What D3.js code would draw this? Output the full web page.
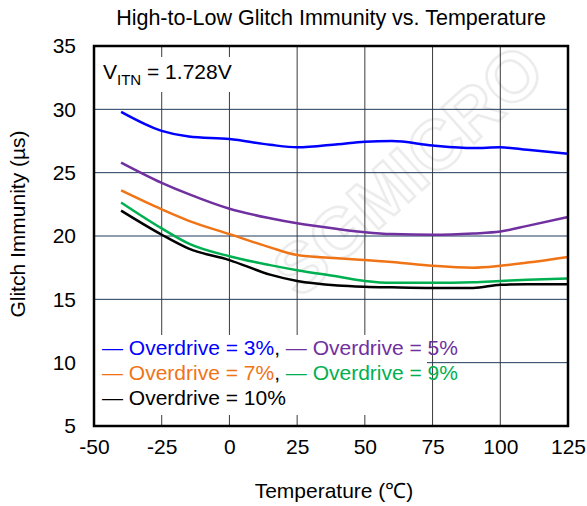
<!DOCTYPE html>
<html>
<head>
<meta charset="utf-8">
<script src="https://cdn.jsdelivr.net/npm/d3@7"></script>
<style>
  body { margin: 0; background: #fff; }
  svg { font-family: "Liberation Sans", Arial, sans-serif; }
</style>
</head>
<body>
<svg id="chart" width="587" height="506"></svg>
<script>
const temps = [-40, -25, -15, 0, 15, 25, 40, 50, 60, 75, 90, 100, 110, 125]
const od3 = [29.8, 28.3, 27.85, 27.65, 27.2, 27.0, 27.25, 27.45, 27.5, 27.15, 26.95, 27.0, 26.8, 26.5]
const od5 = [25.8, 24.2, 23.3, 22.15, 21.4, 21.0, 20.55, 20.3, 20.15, 20.1, 20.2, 20.35, 20.8, 21.5]
const od7 = [23.6, 22.1, 21.2, 20.15, 19.1, 18.5, 18.25, 18.1, 17.95, 17.65, 17.5, 17.65, 17.9, 18.35]
const od9 = [22.65, 20.6, 19.4, 18.4, 17.7, 17.3, 16.8, 16.45, 16.3, 16.3, 16.35, 16.45, 16.55, 16.65]
const od10 = [22.0, 20.1, 19.0, 18.1, 16.95, 16.45, 16.1, 16.0, 15.95, 15.9, 15.9, 16.15, 16.2, 16.2]

const xTicks = [-50, -25, 0, 25, 50, 75, 100, 125]
const yTicks = [5, 10, 15, 20, 25, 30, 35]

const series = [
    { name: 'Overdrive = 3%', color: '#0000ff', values: od3 },
    { name: 'Overdrive = 5%', color: '#7030a0', values: od5 },
    { name: 'Overdrive = 7%', color: '#f07415', values: od7 },
    { name: 'Overdrive = 9%', color: '#00b050', values: od9 },
    { name: 'Overdrive = 10%', color: '#000000', values: od10 }
]

const margin = { left: 94, right: 19, top: 46, bottom: 80 }
const width = 587
const height = 506
const svg = d3.select('#chart')

const x = d3.scaleLinear().domain([-50, 125]).range([margin.left, width - margin.right])
const y = d3.scaleLinear().domain([5, 35]).range([height - margin.bottom, margin.top])

// faint watermark
svg.append('text')
    .attr('transform', 'translate(300,300) rotate(-42)')
    .attr('fill', 'none')
    .attr('stroke', '#ececec')
    .attr('stroke-width', 2.5)
    .style('font-weight', 'bold')
    .style('font-size', '70px')
    .text('SGMICRO')

// gridlines
svg.append('g')
    .selectAll('line')
    .data(xTicks.slice(1, -1))
    .enter()
    .append('line')
    .attr('x1', (d) => x(d))
    .attr('x2', (d) => x(d))
    .attr('y1', y(35))
    .attr('y2', y(5))
    .attr('stroke', '#3a3a3a')
    .attr('stroke-width', 1)

svg.append('g')
    .selectAll('line')
    .data(yTicks.slice(1, -1))
    .enter()
    .append('line')
    .attr('x1', x(-50))
    .attr('x2', x(125))
    .attr('y1', (d) => y(d))
    .attr('y2', (d) => y(d))
    .attr('stroke', '#1f3a5c')
    .attr('stroke-width', 1)

// white boxes behind the labels
svg.append('rect')
    .attr('x', x(-50)).attr('y', 57)
    .attr('width', 166).attr('height', 35)
    .attr('fill', '#fff')
svg.append('rect')
    .attr('x', x(-50)).attr('y', 335)
    .attr('width', 333).attr('height', 80)
    .attr('fill', '#fff')

// lines
const line = d3.line()
    .x((d) => x(d[0]))
    .y((d) => y(d[1]))
    .curve(d3.curveMonotoneX)

svg.append('g')
    .selectAll('path')
    .data(series)
    .enter()
    .append('path')
    .attr('d', (s) => line(temps.map((t, i) => [t, s.values[i]])))
    .attr('fill', 'none')
    .attr('stroke', (s) => s.color)
    .attr('stroke-width', 2.5)

// frame
svg.append('rect')
    .attr('x', x(-50))
    .attr('y', y(35))
    .attr('width', x(125) - x(-50))
    .attr('height', y(5) - y(35))
    .attr('fill', 'none')
    .attr('stroke', '#000')
    .attr('stroke-width', 2.5)

// axes
const plain = (d) => String(d)

const xAxis = svg.append('g')
    .attr('transform', `translate(0, ${y(5)})`)
    .call(d3.axisBottom(x).tickValues(xTicks).tickSize(0).tickPadding(13).tickFormat(plain))
xAxis.select('.domain').remove()
xAxis.selectAll('text')
    .style('font-size', '21px')
    .style('font-family', '"Liberation Sans", Arial, sans-serif')
    .attr('fill', '#000')

const yAxis = svg.append('g')
    .attr('transform', `translate(${x(-50)}, 0)`)
    .call(d3.axisLeft(y).tickValues(yTicks).tickSize(0).tickPadding(18).tickFormat(plain))
yAxis.select('.domain').remove()
yAxis.selectAll('text')
    .style('font-size', '21px')
    .style('font-family', '"Liberation Sans", Arial, sans-serif')
    .attr('fill', '#000')

// titles
svg.append('text')
    .attr('x', 331)
    .attr('y', 25)
    .attr('text-anchor', 'middle')
    .style('font-size', '21.5px')
    .text('High-to-Low Glitch Immunity vs. Temperature')

svg.append('text')
    .attr('x', 334)
    .attr('y', 498)
    .attr('text-anchor', 'middle')
    .style('font-size', '21px')
    .text('Temperature (℃)')

svg.append('text')
    .attr('transform', 'translate(25, 224) rotate(-90)')
    .attr('text-anchor', 'middle')
    .style('font-size', '21px')
    .text('Glitch Immunity (µs)')

const vLabel = svg.append('text')
    .attr('x', 103)
    .attr('y', 79)
    .style('font-size', '21px')
vLabel.append('tspan').text('V')
vLabel.append('tspan').attr('dy', 6).style('font-size', '15px').text('ITN')
vLabel.append('tspan').attr('dy', -6).text(' = 1.728V')

// legend
const legendRows = [[0, 1], [2, 3], [4]]
legendRows.forEach((row, r) => {
    const t = svg.append('text')
        .attr('x', 102)
        .attr('y', 355 + r * 25)
        .style('font-size', '21px')
    row.forEach((idx, j) => {
        if (j > 0) t.append('tspan').attr('fill', '#000').text(', ')
        t.append('tspan')
            .attr('fill', series[idx].color)
            .text('— ' + series[idx].name)
    })
})
</script>
</body>
</html>
